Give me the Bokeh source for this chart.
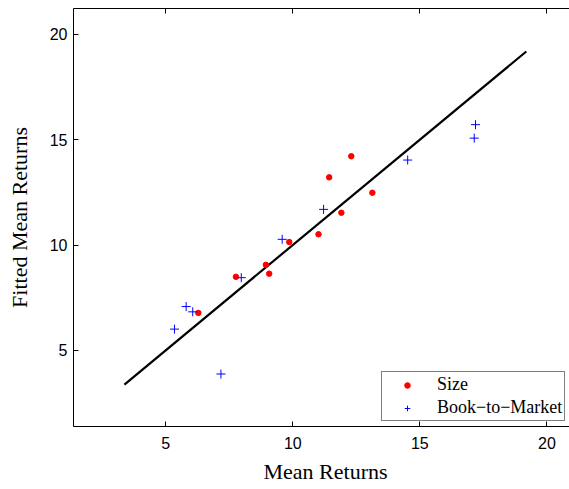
from bokeh.plotting import figure
from bokeh.models import Range1d, LinearAxis, FixedTicker, Legend, LegendItem, Title
from bokeh.embed import file_html
from bokeh.resources import INLINE

# Size portfolios
size_mean = [12.30, 11.43, 13.13, 11.91, 11.01, 9.86, 8.94, 9.07, 7.76, 6.28]
size_fitted = [14.21, 13.21, 12.48, 11.53, 10.51, 10.14, 9.06, 8.64, 8.49, 6.78]
# Book-to-Market portfolios
bm_mean = [11.21, 9.58, 7.97, 5.80, 6.06, 5.34, 7.17, 14.52, 17.19, 17.14]
bm_fitted = [11.69, 10.27, 8.45, 7.08, 6.83, 6.01, 3.88, 14.03, 15.71, 15.07]
# 45-degree line
line_x = [3.37, 19.19]
line_y = [3.38, 19.18]

ticks = [5, 10, 15, 20]

W, H = 569, 489
p = figure(width=W, height=H, output_backend="svg", toolbar_location=None, tools="",
           x_range=Range1d(1.366, 20.89), y_range=Range1d(1.39, 21.22),
           x_axis_location=None, y_axis_location=None)
p.min_border = 0
p.min_border_left = 73
p.min_border_right = 0
p.min_border_top = 8
p.min_border_bottom = 62
p.outline_line_color = None
p.xgrid.visible = False
p.ygrid.visible = False
p.background_fill_color = "white"
p.border_fill_color = "white"

def style_axis(ax, show_labels=True):
    ax.ticker = FixedTicker(ticks=ticks)
    ax.axis_line_color = "black"
    ax.axis_line_width = 1
    ax.major_tick_in = 5
    ax.major_tick_out = 0
    ax.major_tick_line_color = "black"
    ax.minor_tick_line_color = None
    ax.major_label_text_font = "Liberation Sans"
    ax.major_label_text_color = "black"
    ax.major_label_text_font_size = "16px"
    if not show_labels:
        ax.major_label_overrides = {t: "" for t in ticks}
        ax.major_label_text_font_size = "1px"
        ax.major_label_standoff = 0

xb = LinearAxis()
style_axis(xb)
xb.major_label_standoff = 10
p.add_layout(xb, "below")

xlab = Title(text="Mean Returns", align="left", offset=190, standoff=11,
             text_font="Liberation Serif", text_font_size="22px",
             text_font_style="normal", text_color="black")
p.add_layout(xlab, "below")

xt = LinearAxis()
style_axis(xt, show_labels=False)
p.add_layout(xt, "above")

yl = LinearAxis(axis_label="Fitted Mean Returns")
style_axis(yl)
yl.major_label_standoff = 6
yl.axis_label_text_font = "Liberation Serif"
yl.axis_label_text_font_size = "22px"
yl.axis_label_text_font_style = "normal"
yl.axis_label_text_color = "black"
yl.axis_label_standoff = 15
p.add_layout(yl, "left")

p.line(line_x, line_y, line_color="black", line_width=2.2)
r_size = p.scatter(size_mean, size_fitted, marker="circle", size=5.5,
                   fill_color="#ff0000", line_color="#ff0000")
r_bm = p.scatter(bm_mean, bm_fitted, marker="cross", size=9,
                 line_color="#0000ff", line_width=1)

legend = Legend(items=[LegendItem(label="Size", renderers=[r_size]),
                       LegendItem(label="Book\u2212to\u2212Market", renderers=[r_bm])],
                location=(308, 5), orientation="vertical")
legend.margin = 0
legend.padding = 2
legend.spacing = 2
legend.glyph_width = 46
legend.glyph_height = 14
legend.label_height = 20
legend.label_standoff = 7
legend.label_text_font = "Liberation Serif"
legend.label_text_font_size = "18px"
legend.label_text_color = "black"
legend.border_line_color = "black"
legend.border_line_width = 1
legend.background_fill_color = "white"
legend.background_fill_alpha = 1
p.add_layout(legend, "center")

open("out.html", "w").write(file_html(p, INLINE))
